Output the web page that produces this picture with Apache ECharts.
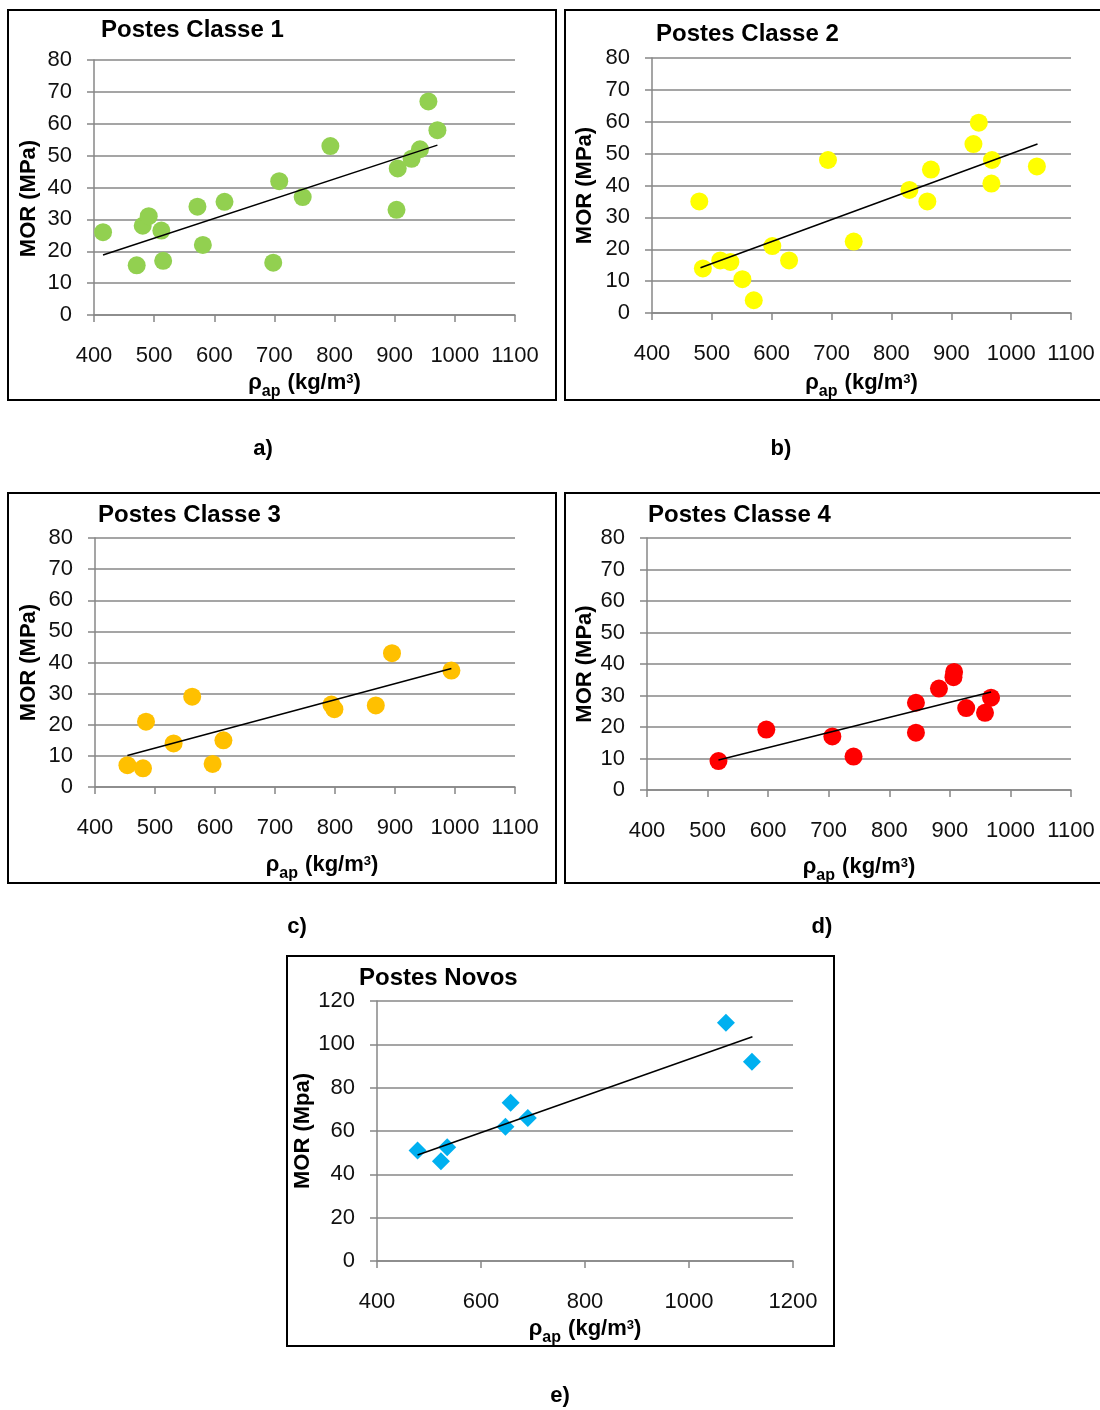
<!DOCTYPE html>
<html>
<head>
<meta charset="utf-8">
<script src="https://cdn.jsdelivr.net/npm/echarts@6/dist/echarts.min.js"></script>
<style>
  html, body { margin: 0; padding: 0; background: #fff; }
  #chart { width: 1100px; height: 1410px; }
</style>
</head>
<body>
<div id="chart"></div>
<script>
// --- data: [density kg/m3, MOR MPa] ---
const classe1 = [
  [415, 26], [471, 15.6], [481, 28], [491, 31], [512, 26.5], [515, 17],
  [572, 34], [581, 22], [617, 35.5], [698, 16.4], [708, 42], [747, 37],
  [793, 53], [903, 33], [905, 46], [928, 49], [942, 52], [956, 67], [971, 58]
];
const classe2 = [
  [479, 35], [485, 14], [514, 16.5], [531, 16], [551, 10.6], [570, 4],
  [601, 21], [629, 16.5], [694, 48], [737, 22.4], [830, 38.6], [860, 35],
  [866, 45], [937, 53], [946, 59.7], [968, 48], [967, 40.6], [1043, 46]
];
const classe3 = [
  [454, 7], [480, 6], [485, 21], [531, 14], [562, 29], [596, 7.4],
  [614, 15], [794, 26.5], [799, 25], [868, 26.2], [895, 43], [994, 37.4]
];
const classe4 = [
  [518, 9.2], [597, 19.2], [706, 17], [741, 10.6], [844, 18.2], [844, 27.7],
  [882, 32.2], [906, 35.8], [907, 37.5], [927, 26], [958, 24.5], [968, 29.3]
];
const novos = [
  [478, 51], [523, 46], [535, 52.5], [647, 62], [657, 73], [690, 66],
  [1071, 110], [1121, 92]
];

// trend line end points, as drawn
const trend1 = [[415, 18.8], [971, 53.3]];
const trend2 = [[481, 14.2], [1044, 53]];
const trend3 = [[454, 10.1], [994, 38.1]];
const trend4 = [[518, 9.5], [968, 31.1]];
const trendN = [[478, 48.9], [1122, 103.5]];

const titles = ['Postes Classe 1', 'Postes Classe 2', 'Postes Classe 3', 'Postes Classe 4', 'Postes Novos'];
const yNames = ['MOR (MPa)', 'MOR (MPa)', 'MOR (MPa)', 'MOR (MPa)', 'MOR (Mpa)'];
const letters = ['a)', 'b)', 'c)', 'd)', 'e)'];
const xRanges = [[400, 1100, 100], [400, 1100, 100], [400, 1100, 100], [400, 1100, 100], [400, 1200, 200]];
const yRanges = [[0, 80, 10], [0, 80, 10], [0, 80, 10], [0, 80, 10], [0, 120, 20]];

const points = [classe1, classe2, classe3, classe4, novos];
const trends = [trend1, trend2, trend3, trend4, trendN];
const colors = ['#92d050', '#ffff00', '#ffc000', '#ff0000', '#00b0f0'];
const symbols = ['circle', 'circle', 'circle', 'circle', 'diamond'];

// layout of each panel (pixels)
const layout = [
  { grid: [94, 60, 421, 255], box: [8, 10, 548, 390], title: [101, 18], letter: [263, 449], yGap: 54, yPad: 22, xGap: 57, xPad: 0 },
  { grid: [652, 58, 419, 255], box: [565, 10, 540, 390], title: [656, 22], letter: [781, 449], yGap: 56, yPad: 0, xGap: 59, xPad: 0 },
  { grid: [95, 538, 420, 249], box: [8, 493, 548, 390], title: [98, 503], letter: [297, 927], yGap: 55, yPad: 0, xGap: 67, xPad: 34 },
  { grid: [647, 538, 424, 252], box: [565, 493, 540, 390], title: [648, 503], letter: [822, 927], yGap: 51, yPad: 0, xGap: 66, xPad: 0 },
  { grid: [377, 1001, 416, 260], box: [287, 956, 547, 390], title: [359, 966], letter: [560, 1396], yGap: 59, yPad: 0, xGap: 57, xPad: 0 }
];

const FONT = '"Liberation Sans", Arial, sans-serif';
const gray = '#878787';

const chart = echarts.init(document.getElementById('chart'), null, { renderer: 'canvas' });

const grid = [], xAxis = [], yAxis = [], series = [], title = [], graphic = [];

layout.forEach((L, i) => {
  grid.push({ left: L.grid[0], top: L.grid[1], width: L.grid[2], height: L.grid[3] });

  xAxis.push({
    gridIndex: i,
    type: 'value',
    min: xRanges[i][0], max: xRanges[i][1], interval: xRanges[i][2],
    axisLine: { show: true, onZero: false, lineStyle: { color: gray, width: 1.5 } },
    axisTick: { show: true, length: 7, lineStyle: { color: gray, width: 1.5 } },
    axisLabel: { color: '#111', fontSize: 22, fontFamily: FONT, margin: 30, formatter: (v) => String(v) },
    splitLine: { show: false },
    name: '{r|ρ}{s|ap}{r| (kg/m}{p|3}{r|)}',
    nameLocation: 'middle',
    nameGap: L.xGap,
    nameTextStyle: {
      padding: [0, 0, 0, L.xPad],
      rich: {
        r: { fontSize: 22, fontWeight: 'bold', fontFamily: FONT, color: '#000', lineHeight: 24, verticalAlign: 'top' },
        s: { fontSize: 16, fontWeight: 'bold', fontFamily: FONT, color: '#000', lineHeight: 16, padding: [12, 1, 0, 0], verticalAlign: 'top' },
        p: { fontSize: 13, fontWeight: 'bold', fontFamily: FONT, color: '#000', lineHeight: 13, padding: [1, 0, 0, 0], verticalAlign: 'top' }
      }
    }
  });

  yAxis.push({
    gridIndex: i,
    type: 'value',
    min: yRanges[i][0], max: yRanges[i][1], interval: yRanges[i][2],
    axisLine: { show: true, onZero: false, lineStyle: { color: gray, width: 1.5 } },
    axisTick: { show: true, length: 7, lineStyle: { color: gray, width: 1.5 } },
    axisLabel: { color: '#111', fontSize: 22, fontFamily: FONT, margin: 22 },
    splitLine: { show: true, lineStyle: { color: gray, width: 1.5 } },
    name: yNames[i],
    nameLocation: 'middle',
    nameGap: L.yGap,
    nameTextStyle: { fontSize: 22, fontWeight: 'bold', fontFamily: FONT, color: '#000', padding: [0, L.yPad, 0, 0] }
  });

  series.push({
    type: 'scatter',
    xAxisIndex: i, yAxisIndex: i,
    data: points[i],
    symbol: symbols[i],
    symbolSize: 18,
    itemStyle: { color: colors[i], opacity: 1 },
    z: 2
  });
  series.push({
    type: 'line',
    xAxisIndex: i, yAxisIndex: i,
    data: trends[i],
    symbol: 'none',
    lineStyle: { color: '#000', width: 1.5 },
    z: 3
  });

  title.push({
    text: titles[i],
    left: L.title[0], top: L.title[1],
    padding: 0,
    textStyle: { fontSize: 24, fontWeight: 'bold', fontFamily: FONT, color: '#000' }
  });

  graphic.push({
    type: 'rect',
    shape: { x: L.box[0], y: L.box[1], width: L.box[2], height: L.box[3] },
    style: { fill: null, stroke: '#000', lineWidth: 2 },
    silent: true
  });
  graphic.push({
    type: 'text',
    x: L.letter[0], y: L.letter[1],
    style: {
      text: letters[i], fill: '#000', font: 'bold 22px ' + FONT,
      textAlign: 'center', textVerticalAlign: 'middle'
    },
    silent: true
  });
});

chart.setOption({
  backgroundColor: '#fff',
  animation: false,
  title: title,
  grid: grid,
  xAxis: xAxis,
  yAxis: yAxis,
  series: series,
  graphic: graphic
});

window.addEventListener('resize', () => chart && chart.resize());
</script>
</body>
</html>
